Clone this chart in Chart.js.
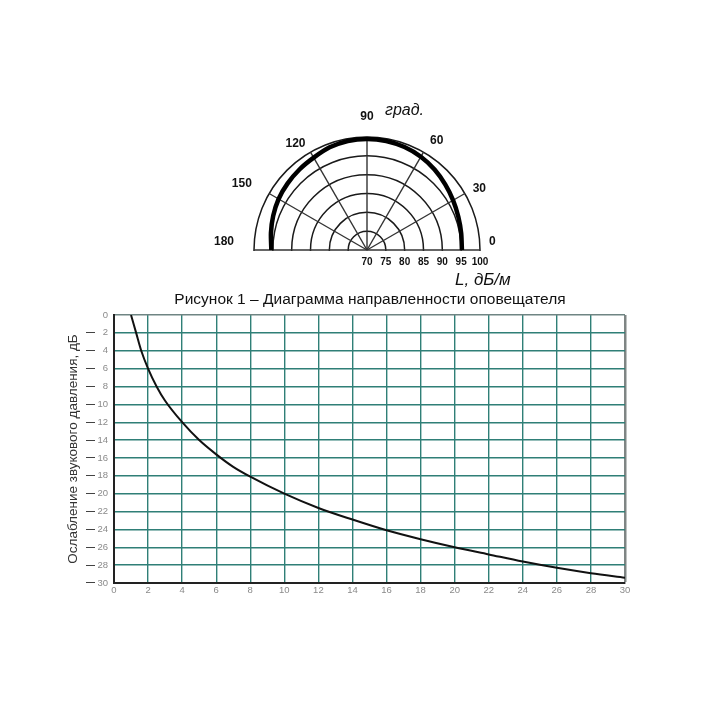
<!DOCTYPE html>
<html>
<head>
<meta charset="utf-8">
<script src="https://cdn.jsdelivr.net/npm/chart.js@4.4.0/dist/chart.umd.min.js"></script>
<style>
  html, body { margin: 0; padding: 0; background: #fff; }
  body { width: 702px; height: 702px; position: relative; overflow: hidden;
         font-family: "Liberation Sans", Arial, sans-serif; color: #111; }
  .txt { position: absolute; white-space: nowrap; }
  #lineBox { position: absolute; left: 0; top: 300px; width: 702px; height: 305px; }
  #polarBox { position: absolute; left: 197px; top: 80px; width: 340px; height: 340px; }
</style>
</head>
<body>
<div id="lineBox"><canvas id="graficoAtenuacao"></canvas></div>
<div id="polarBox"><canvas id="graficoPolar"></canvas></div>
<div class="txt" style="left:385px; top:101px; font-style:italic; font-size:16px;">град.</div>
<div class="txt" style="left:455px; top:270px; font-style:italic; font-size:17px;">L, дБ/м</div>
<div class="txt" style="left:0; width:740px; text-align:center; top:290px; font-size:15.5px;">Рисунок 1 – Диаграмма направленности оповещателя</div>

<script>
// диаграмма направленности (угол, град -> уровень, дБ)
const directionAngle = [0, 10, 20, 30, 40, 50, 60, 70, 80, 90, 100, 110, 120, 130, 140, 150, 160, 170, 180];
const directionLevel = [95.2, 95.4, 95.8, 96.4, 97.1, 97.9, 98.6, 99.1, 99.4, 99.5, 99.4, 99.0, 98.3, 97.9, 97.5, 97.1, 96.5, 95.9, 95.4];
const angleLabels = [0, 30, 60, 90, 120, 150, 180];
const levelTicks = [70, 75, 80, 85, 90, 95, 100];

// ослабление звукового давления от расстояния
const distance = [1, 1.3, 1.6, 2, 2.5, 3, 4, 5, 6, 7, 8, 10, 12, 14, 16, 18, 20, 22, 24, 26, 28, 30];
const attenuation = [0, 2, 4, 6, 8, 9.6, 12, 14, 15.6, 17, 18.1, 20, 21.6, 22.9, 24.1, 25.1, 26, 26.8, 27.6, 28.3, 28.9, 29.4];

Chart.defaults.font.family = '"Liberation Sans", Arial, sans-serif';

// радар идёт по часовой стрелке от 180 (слева) через 90 (верх) к 0 (справа)
const radarLabels = [];
const radarData = [];
for (let i = 0; i < 36; i++) {
    const a = (180 - i * 10 + 360) % 360;
    radarLabels.push(String(a));
    const k = i <= 18 ? directionAngle.indexOf(a) : -1;
    radarData.push(k >= 0 ? directionLevel[k] : null);
}

// отступы подписей углов
const labelPad = { 0: 9, 30: 9, 60: 13, 90: 20, 120: 10, 150: 20, 180: 20 };

const polarDecor = {
    id: 'polarDecor',
    beforeDraw(chart) {
        const r = chart.scales.r;
        const ctx = chart.ctx;
        ctx.save();
        ctx.beginPath();
        ctx.rect(0, 0, chart.width, r.yCenter + 1);
        ctx.clip();
    },
    afterDraw(chart) {
        const r = chart.scales.r;
        const ctx = chart.ctx;
        ctx.restore();
        ctx.save();
        ctx.fillStyle = '#111';
        ctx.font = 'bold 12px "Liberation Sans", Arial, sans-serif';
        ctx.textBaseline = 'middle';
        angleLabels.forEach(a => {
            const idx = (180 - a) / 10;
            const p = r.getPointPosition(idx, r.drawingArea + labelPad[a]);
            ctx.textAlign = a < 90 ? 'left' : (a > 90 ? 'right' : 'center');
            const dy = (a === 0 || a === 180) ? -8 : 0;
            ctx.fillText(String(a), p.x, p.y + dy);
        });
        ctx.font = 'bold 10px "Liberation Sans", Arial, sans-serif';
        ctx.textAlign = 'center';
        levelTicks.forEach(v => {
            ctx.fillText(String(v), r.xCenter + r.getDistanceFromCenterForValue(v), r.yCenter + 12);
        });
        ctx.restore();
    }
};

new Chart(document.getElementById('graficoPolar').getContext('2d'), {
    type: 'radar',
    data: {
        labels: radarLabels,
        datasets: [{
            data: radarData,
            borderColor: '#000',
            borderWidth: 4.5,
            pointRadius: 0,
            fill: false,
            tension: 0.2,
            spanGaps: false
        }]
    },
    options: {
        responsive: true,
        maintainAspectRatio: false,
        animation: false,
        layout: { padding: 57 },
        plugins: { legend: { display: false }, tooltip: { enabled: false } },
        scales: {
            r: {
                min: 70,
                max: 100,
                startAngle: -90,
                ticks: { stepSize: 5, display: false },
                pointLabels: { display: false },
                grid: { circular: true, color: '#1a1a1a', lineWidth: 1.5 },
                angleLines: {
                    color: c => (c.index % 3 === 0 && c.index <= 18) ? '#333' : 'transparent',
                    lineWidth: 1.4
                }
            }
        }
    },
    plugins: [polarDecor]
});

const gridTeal = '#2f7f77';

new Chart(document.getElementById('graficoAtenuacao').getContext('2d'), {
    type: 'line',
    data: {
        datasets: [{
            data: distance.map((d, i) => ({ x: d, y: attenuation[i] })),
            borderColor: '#111',
            borderWidth: 2,
            pointRadius: 0,
            fill: false,
            cubicInterpolationMode: 'monotone'
        }]
    },
    options: {
        responsive: true,
        maintainAspectRatio: false,
        animation: false,
        layout: { padding: { left: 60, right: 77, top: 15, bottom: 0 } },
        plugins: { legend: { display: false }, tooltip: { enabled: false } },
        scales: {
            x: {
                type: 'linear',
                min: 0,
                max: 30,
                ticks: { stepSize: 2, color: '#8a8a8a', font: { size: 9.5 }, padding: 2 },
                grid: {
                    drawTicks: false,
                    color: c => c.tick && c.tick.value === 30 ? '#7f8584' : (c.tick && c.tick.value === 0 ? 'transparent' : gridTeal),
                    lineWidth: c => c.tick && c.tick.value === 30 ? 2.5 : 1.4
                },
                border: { color: '#222', width: 2 },
                afterFit(s) { s.height = 22; }
            },
            y: {
                min: 0,
                max: 30,
                reverse: true,
                weight: 0,
                ticks: { stepSize: 2, color: '#8a8a8a', font: { size: 9.5 }, padding: 6 },
                grid: {
                    drawTicks: false,
                    color: c => c.tick && c.tick.value === 0 ? '#6f8583' : (c.tick && c.tick.value === 30 ? 'transparent' : gridTeal),
                    lineWidth: 1.4
                },
                border: { color: '#222', width: 2 },
                afterFit(s) { s.width = 16; }
            },
            yDash: {
                position: 'left',
                min: 0,
                max: 30,
                reverse: true,
                weight: 1,
                ticks: { stepSize: 2, color: '#333', font: { size: 9, weight: 'bold' }, padding: 3,
                         callback: v => v === 0 ? '' : '—' },
                grid: { display: false, drawTicks: false },
                border: { display: false },
                title: {
                    display: true,
                    text: 'Ослабление звукового давления, дБ',
                    color: '#333',
                    font: { size: 13.5 },
                    padding: { top: 5, bottom: 0 }
                },
                afterFit(s) { s.width = 38; }
            }
        }
    }
});
</script>
</body>
</html>
